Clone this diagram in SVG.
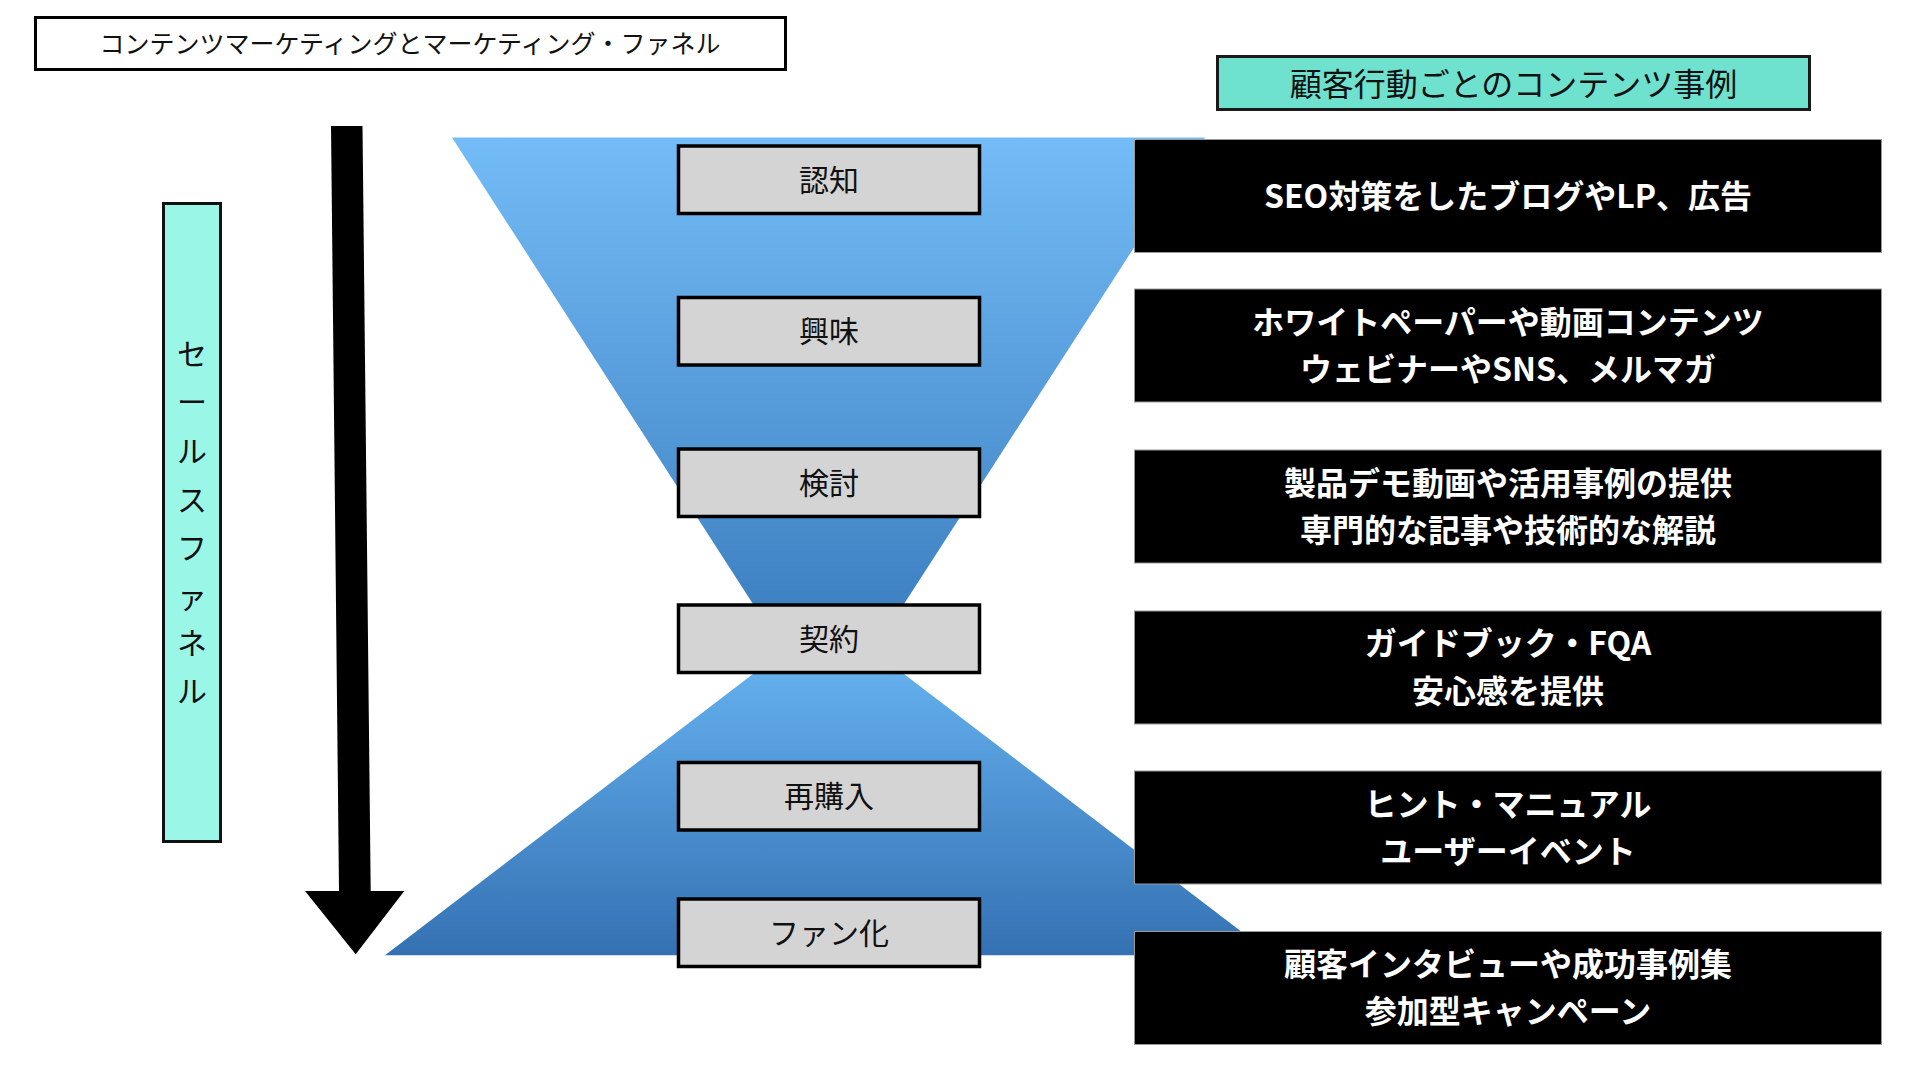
<svg xmlns="http://www.w3.org/2000/svg" width="1920" height="1080" viewBox="0 0 1920 1080">
<defs>
<linearGradient id="gUpper" x1="0" y1="0" x2="0" y2="1">
<stop offset="0" stop-color="#73BCF7"/>
<stop offset="1" stop-color="#3F82C3"/>
</linearGradient>
<linearGradient id="gLower" x1="0" y1="0" x2="0" y2="1">
<stop offset="0" stop-color="#63AEEC"/>
<stop offset="1" stop-color="#3471B3"/>
</linearGradient>
<style>
.jp{font-family:"Noto Sans CJK JP","Noto Sans",sans-serif;}
.stage{fill:#D4D4D4;stroke:#000;stroke-width:3.5;}
.stage-t{font-size:30px;fill:#111;text-anchor:middle;dominant-baseline:central;}
.ex{fill:#000;stroke:#9a9a9a;stroke-width:1;}
.ex-t{font-size:32px;font-weight:bold;fill:#fff;text-anchor:middle;dominant-baseline:central;}
.vt{font-size:30px;fill:#111;text-anchor:middle;dominant-baseline:central;}
</style>
</defs>
<rect width="1920" height="1080" fill="#fff"/>

<g id="funnel">
<polygon points="452,137.5 1205,137.5 904,604 753,604" fill="url(#gUpper)"/>
<polygon points="753,674 904,674 1272.5,955.3 385,955.3" fill="url(#gLower)"/>
</g>

<g id="title">
<rect x="35.5" y="17.5" width="750" height="52" fill="#fff" stroke="#000" stroke-width="3"/>
<text class="jp" x="410" y="42" font-size="25" fill="#111" text-anchor="middle" dominant-baseline="central">コンテンツマーケティングとマーケティング・ファネル</text>
</g>

<g id="sales-funnel-label">
<rect x="163.5" y="203.5" width="57" height="638" fill="#9AF7E8" stroke="#111" stroke-width="3"/>
<text class="jp vt" x="192" y="352">セ</text>
<text class="jp vt" x="192" y="400">ー</text>
<text class="jp vt" x="192" y="449">ル</text>
<text class="jp vt" x="192" y="498">ス</text>
<text class="jp vt" x="192" y="546">フ</text>
<text class="jp vt" x="192" y="595">ァ</text>
<text class="jp vt" x="192" y="641">ネ</text>
<text class="jp vt" x="192" y="689">ル</text>
</g>

<g id="connectors">
<polygon points="331,126 362.5,126 370.7,891 404.3,891 355.7,954.3 305,891 339,891" fill="#000"/>
</g>

<g id="stage-awareness">
<rect class="stage" x="678.5" y="146" width="301" height="67.5"/>
<text class="jp stage-t" x="829" y="178">認知</text>
</g>
<g id="stage-interest">
<rect class="stage" x="678.5" y="297.5" width="301" height="67.5"/>
<text class="jp stage-t" x="829" y="329">興味</text>
</g>
<g id="stage-consideration">
<rect class="stage" x="678.5" y="449" width="301" height="67.5"/>
<text class="jp stage-t" x="829" y="481">検討</text>
</g>
<g id="stage-contract">
<rect class="stage" x="678.5" y="605" width="301" height="67.5"/>
<text class="jp stage-t" x="829" y="637">契約</text>
</g>
<g id="stage-repurchase">
<rect class="stage" x="678.5" y="762.5" width="301" height="67.5"/>
<text class="jp stage-t" x="829" y="794">再購入</text>
</g>
<g id="stage-fan">
<rect class="stage" x="678.5" y="899" width="301" height="67.5"/>
<text class="jp stage-t" x="829" y="931">ファン化</text>
</g>

<g id="header">
<rect x="1217.5" y="56.5" width="592" height="53" fill="#6EE2CE" stroke="#1a1a1a" stroke-width="3"/>
<text class="jp" x="1513.5" y="81.5" font-size="32" fill="#111" text-anchor="middle" dominant-baseline="central">顧客行動ごとのコンテンツ事例</text>
</g>

<g id="example-awareness">
<rect class="ex" x="1134.5" y="139.5" width="747" height="113"/>
<text class="jp ex-t" x="1508" y="193.5">SEO対策をしたブログやLP、広告</text>
</g>
<g id="example-interest">
<rect class="ex" x="1134.5" y="289" width="747" height="113"/>
<text class="jp ex-t" x="1508" y="319.5">ホワイトペーパーや動画コンテンツ</text>
<text class="jp ex-t" x="1508" y="366.5">ウェビナーやSNS、メルマガ</text>
</g>
<g id="example-consideration">
<rect class="ex" x="1134.5" y="450" width="747" height="113"/>
<text class="jp ex-t" x="1508" y="480.5">製品デモ動画や活用事例の提供</text>
<text class="jp ex-t" x="1508" y="527.5">専門的な記事や技術的な解説</text>
</g>
<g id="example-contract">
<rect class="ex" x="1134.5" y="611" width="747" height="113"/>
<text class="jp ex-t" x="1508" y="641">ガイドブック・FQA</text>
<text class="jp ex-t" x="1508" y="688.5">安心感を提供</text>
</g>
<g id="example-repurchase">
<rect class="ex" x="1134.5" y="771" width="747" height="113"/>
<text class="jp ex-t" x="1508" y="801.5">ヒント・マニュアル</text>
<text class="jp ex-t" x="1508" y="848.5">ユーザーイベント</text>
</g>
<g id="example-fan">
<rect class="ex" x="1134.5" y="931.5" width="747" height="113"/>
<text class="jp ex-t" x="1508" y="962">顧客インタビューや成功事例集</text>
<text class="jp ex-t" x="1508" y="1009">参加型キャンペーン</text>
</g>
</svg>
